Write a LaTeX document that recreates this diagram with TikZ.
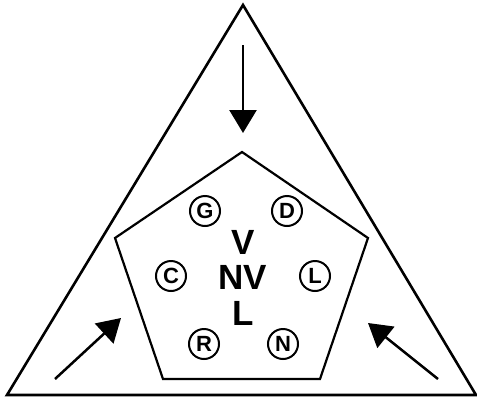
\documentclass[tikz,border=0pt]{standalone}
\usepackage{fontspec}
\setmainfont{Liberation Sans}
\usetikzlibrary{arrows.meta}
\begin{document}
\begin{tikzpicture}[x=1pt,y=-1pt,
  outline/.style={line width=2.6pt,line join=miter},
  pent/.style={line width=2.2pt,line join=miter},
  circled/.style={circle,draw,line width=2pt,minimum size=30pt,inner sep=0pt,font=\bfseries\fontsize{22}{22}\selectfont},
  bigletter/.style={font=\bfseries\fontsize{35}{35}\selectfont,inner sep=0pt},
  pusharrow/.style={line width=2.5pt,-{Triangle[length=23pt,width=27pt]}}]
\useasboundingbox (0,0) rectangle (477,397);
% triangle
\coordinate (tA) at (243,5);
\coordinate (tL) at (7,395);
\coordinate (tR) at (476,395);
\draw[outline] (tA) -- (tR) -- (tL) -- cycle;
% pentagon
\coordinate (p1) at (242,152);
\coordinate (p2) at (368,238);
\coordinate (p3) at (320,379);
\coordinate (p4) at (163,379);
\coordinate (p5) at (115,238);
\draw[pent] (p1) -- (p2) -- (p3) -- (p4) -- (p5) -- cycle;
% circled letters
\node[circled] (G) at (205,211) {G};
\node[circled] (D) at (287,211) {D};
\node[circled] (C) at (171,276) {C};
\node[circled] (Lc) at (315,276) {L};
\node[circled] (R) at (204,344) {R};
\node[circled] (N) at (283,344) {N};
% center text
\node[bigletter] (V) at (243,242) {V};
\node[bigletter] (NV) at (243,277) {NV};
\node[bigletter] (L) at (243,313) {L};
% arrows
\coordinate (a1s) at (243,45);
\coordinate (a1e) at (243,133);
\coordinate (a2s) at (55,379);
\coordinate (a2e) at (121,318);
\coordinate (a3s) at (438,379);
\coordinate (a3e) at (368,323);
\draw[pusharrow] (a1s) -- (a1e);
\draw[pusharrow] (a2s) -- (a2e);
\draw[pusharrow] (a3s) -- (a3e);
\end{tikzpicture}
\end{document}
